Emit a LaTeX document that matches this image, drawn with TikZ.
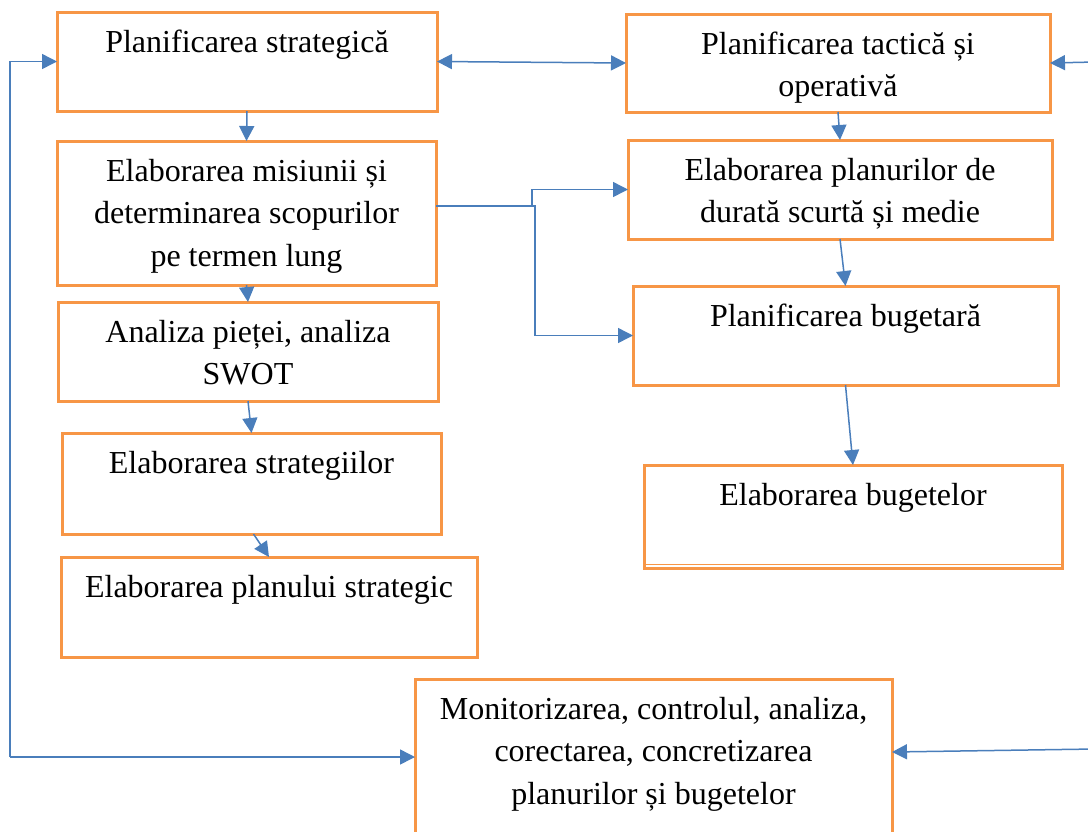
\documentclass[tikz,border=0pt]{standalone}
\usepackage{fontspec}
\setmainfont{Liberation Serif}
\usetikzlibrary{arrows.meta}
\definecolor{boxorange}{HTML}{F79646}
\definecolor{linkblue}{HTML}{4A7EBB}
\begin{document}
\begin{tikzpicture}[x=1pt,y=-1pt,
  box/.style={draw=boxorange, line width=3pt, inner sep=0pt, outer sep=0pt, anchor=north west},
  lbl/.style={anchor=north, inner sep=0pt, align=center,
    font=\fontsize{32}{42.5}\selectfont},
  link/.style={draw=linkblue, line width=1.5pt,
    -{Triangle[length=15pt,width=15pt]}},
  dlink/.style={link, {Triangle[length=15pt,width=15pt]}-{Triangle[length=15pt,width=15pt]}}
]
\useasboundingbox (0,0) rectangle (1088,831);
\clip (0,0) rectangle (1088,831);

% boxes, left column
\node[box, minimum width=380pt, minimum height=99pt]  (A) at (57,12)  {};
\node[box, minimum width=379pt, minimum height=144pt] (C) at (57,141) {};
\node[box, minimum width=380pt, minimum height=99pt]  (D) at (58,302) {};
\node[box, minimum width=379pt, minimum height=101pt] (E) at (62,433) {};
\node[box, minimum width=416pt, minimum height=100pt] (F) at (61,557) {};
% boxes, right column
\node[box, minimum width=424pt, minimum height=98pt]  (B) at (626,14)  {};
\node[box, minimum width=424pt, minimum height=99pt]  (G) at (628,140) {};
\node[box, minimum width=425pt, minimum height=99pt]  (H) at (633,286) {};
\node[box, minimum width=418pt, minimum height=103pt] (I) at (644,465) {};
\draw[boxorange, line width=1.5pt] ([yshift=3.5pt]I.south west) -- ([yshift=3.5pt]I.south east);
% bottom box
\node[box, minimum width=477pt, minimum height=156pt] (J) at (415,679) {};

% texts
\node[lbl] (tA) at ([yshift=-12pt]A.north) {\rule{0pt}{28pt}Planificarea strategică};
\node[lbl] (tC) at ([yshift=-12pt]C.north) {\rule{0pt}{28pt}Elaborarea misiunii și\\determinarea scopurilor\\pe termen lung};
\node[lbl] (tD) at ([yshift=-12pt]D.north) {\rule{0pt}{28pt}Analiza pieței, analiza\\SWOT};
\node[lbl] (tE) at ([yshift=-12pt]E.north) {\rule{0pt}{28pt}Elaborarea strategiilor};
\node[lbl] (tF) at ([yshift=-12pt]F.north) {\rule{0pt}{28pt}Elaborarea planului strategic};
\node[lbl] (tB) at ([yshift=-12pt]B.north) {\rule{0pt}{28pt}Planificarea tactică și\\operativă};
\node[lbl] (tG) at ([yshift=-12pt]G.north) {\rule{0pt}{28pt}Elaborarea planurilor de\\durată scurtă și medie};
\node[lbl] (tH) at ([yshift=-12pt]H.north) {\rule{0pt}{28pt}Planificarea bugetară};
\node[lbl] (tI) at ([yshift=-12pt]I.north) {\rule{0pt}{28pt}Elaborarea bugetelor};
\node[lbl] (tJ) at ([yshift=-12pt]J.north) {\rule{0pt}{28pt}Monitorizarea, controlul, analiza,\\corectarea, concretizarea\\planurilor și bugetelor};

% vertical chains
\draw[link] (A.south) -- (C.north);
\draw[link] (C.south) -- (D.north);
\draw[link] (D.south) -- (E.north);
\draw[link] ([xshift=2pt]E.south) -- (F.north);
\draw[link] (B.south) -- (G.north);
\draw[link] (G.south) -- (H.north);
\draw[link] (H.south) -- (I.north);

% strategic <-> tactical
\draw[dlink] (A.east) -- (B.west);

% branch from the mission box to the tactical plans
\coordinate (cOut) at ([yshift=7pt]C.east);
\draw[link] (cOut) -- (532,206) |- (G.west);
\draw[link] (cOut) -- (535,206) |- (H.west);

% feedback loop on the left
\coordinate (loopCorner) at (10,757);
\draw[link] (loopCorner) |- (A.west);
\draw[link] (loopCorner) -- (J.west);

% incoming links from the right edge
\coordinate (rTop) at (1095,62);
\coordinate (rBot) at (1095,749);
\draw[link] (rTop) -- (B.east);
\draw[link] (rBot) -- ([yshift=5pt]J.east);
\end{tikzpicture}
\end{document}
